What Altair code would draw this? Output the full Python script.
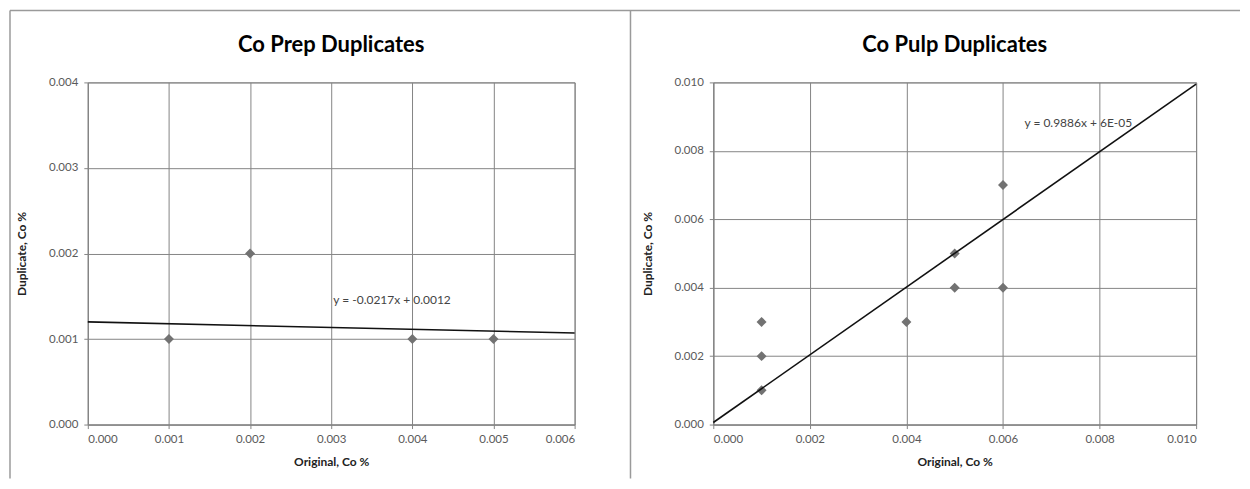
import altair as alt
import pandas as pd

# ---- data ----
prep_original = [0.001, 0.002, 0.004, 0.005]
prep_duplicate = [0.001, 0.002, 0.001, 0.001]
prep_trend_x = [0.000, 0.006]
prep_trend_y = [0.0012, 0.00107]
prep_eq = "y = -0.0217x + 0.0012"
prep_eq_pos = (0.00375, 0.00146)
prep_x_ticks = [0.000, 0.001, 0.002, 0.003, 0.004, 0.005, 0.006]
prep_y_ticks = [0.000, 0.001, 0.002, 0.003, 0.004]

pulp_original = [0.001, 0.001, 0.001, 0.004, 0.005, 0.005, 0.006, 0.006]
pulp_duplicate = [0.001, 0.002, 0.003, 0.003, 0.005, 0.004, 0.004, 0.007]
pulp_trend_x = [0.000, 0.010]
pulp_trend_y = [0.00006, 0.00995]
pulp_eq = "y = 0.9886x + 6E-05"
pulp_eq_pos = (0.00756, 0.0088)
pulp_x_ticks = [0.000, 0.002, 0.004, 0.006, 0.008, 0.010]
pulp_y_ticks = [0.000, 0.002, 0.004, 0.006, 0.008, 0.010]

titles = ["Co Prep Duplicates", "Co Pulp Duplicates"]
x_title = "Original, Co %"
y_title = "Duplicate, Co %"

GRID = "#858585"
LABEL = "#5a5a5a"
FONT = "Lato"


def panel(orig, dup, tx, ty, eq, eq_pos, xt, yt, title, w, h, borders):
    pts = pd.DataFrame({"orig": orig, "dup": dup})
    trend = pd.DataFrame({"orig": tx, "dup": ty})
    one = pd.DataFrame({"k": [0]})
    xs = alt.Scale(domain=[xt[0], xt[-1]], nice=False, zero=False)
    ys = alt.Scale(domain=[yt[0], yt[-1]], nice=False, zero=False)
    xax = alt.Axis(values=xt, format=".3f", title=x_title, grid=True)
    yax = alt.Axis(values=yt, format=".3f", title=y_title, grid=True)

    points = alt.Chart(pts).mark_point(
        shape="diamond", filled=True, size=100, color="#727272", opacity=1
    ).encode(
        x=alt.X("orig:Q", scale=xs, axis=xax),
        y=alt.Y("dup:Q", scale=ys, axis=yax),
    )
    line = alt.Chart(trend).mark_line(color="#111111", strokeWidth=1.6).encode(
        x=alt.X("orig:Q", scale=xs),
        y=alt.Y("dup:Q", scale=ys),
    )
    eqdf = pd.DataFrame({"orig": [eq_pos[0]], "dup": [eq_pos[1]], "t": [eq]})
    eqtext = alt.Chart(eqdf).mark_text(
        font=FONT, fontSize=12, color="#444444", align="center", baseline="middle"
    ).encode(
        x=alt.X("orig:Q", scale=xs),
        y=alt.Y("dup:Q", scale=ys),
        text="t:N",
    )
    ttl = alt.Chart(one).mark_text(
        text=title, font=FONT, fontSize=22, fontWeight="bold", color="#000000",
        align="center", baseline="middle"
    ).encode(x=alt.value(w / 2), y=alt.value(-37))
    layers = [points, line, eqtext, ttl]
    for (x1, x2, y1, y2) in borders:
        layers.append(
            alt.Chart(one).mark_rule(color="#9a9a9a", strokeWidth=1.5).encode(
                x=alt.value(x1), x2=alt.value(x2), y=alt.value(y1), y2=alt.value(y2)
            )
        )
    return alt.layer(*layers).properties(width=w, height=h)


left = panel(prep_original, prep_duplicate, prep_trend_x, prep_trend_y, prep_eq,
             prep_eq_pos, prep_x_ticks, prep_y_ticks, titles[0], 488, 343,
             borders=[(-78, 1155, -72, -72), (-78, -78, -72, 397), (544, 544, -72, 397)])
right = panel(pulp_original, pulp_duplicate, pulp_trend_x, pulp_trend_y, pulp_eq,
              pulp_eq_pos, pulp_x_ticks, pulp_y_ticks, titles[1], 484, 343,
              borders=[])

chart = alt.hconcat(left, right, spacing=139, bounds="flush").properties(
    padding=0
).configure_view(
    stroke=GRID, strokeWidth=1
).configure_axis(
    gridColor=GRID, gridWidth=1, gridOpacity=1,
    domainColor=GRID, domainWidth=1,
    tickColor=GRID, tickSize=4,
    labelFont=FONT, labelFontSize=11.5, labelColor=LABEL,
    titleFont=FONT, titleFontSize=12, titleFontWeight="bold", titleColor="#222222",
).configure_axisX(
    labelPadding=5, titlePadding=12
).configure_axisY(
    labelPadding=6, titlePadding=20
)

chart.save("out.html", embed_options={"renderer": "svg", "actions": False})
